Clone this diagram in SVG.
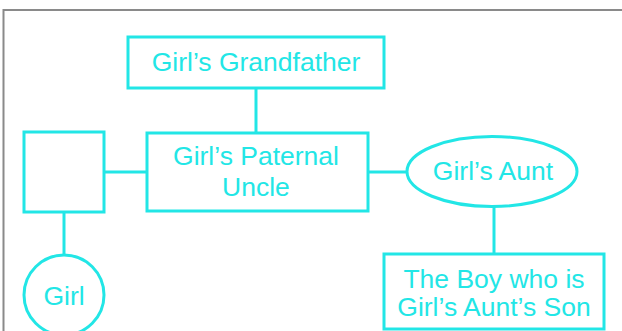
<svg xmlns="http://www.w3.org/2000/svg" width="622" height="331" viewBox="0 0 622 331">
<style>
.n{fill:#fff;stroke:#22E6E6;stroke-width:3}
.c{stroke:#22E6E6;stroke-width:3;fill:none}
.t{font-family:"Liberation Sans",Arial,sans-serif;font-size:26.5px;fill:#22E6E6;text-anchor:middle}
</style>
<rect x="0" y="0" width="622" height="331" fill="#fff"/>
<path d="M3.5 331 V10 H622" fill="none" stroke="#8a8a8a" stroke-width="2"/>
<g id="connectors">
<line class="c" x1="256" y1="88" x2="256" y2="133"/>
<line class="c" x1="104" y1="172" x2="147" y2="172"/>
<line class="c" x1="368" y1="172" x2="407" y2="172"/>
<line class="c" x1="64" y1="212" x2="64" y2="255"/>
<line class="c" x1="494" y1="206" x2="494" y2="254"/>
</g>
<g id="grandfather">
<rect class="n" x="128" y="37" width="256" height="51"/>
<text class="t" x="256" y="71">Girl’s Grandfather</text>
</g>
<g id="father">
<rect class="n" x="24" y="132" width="80" height="80"/>
</g>
<g id="uncle">
<rect class="n" x="147" y="133" width="221" height="78"/>
<text class="t" x="256" y="165">Girl’s Paternal</text>
<text class="t" x="256" y="196">Uncle</text>
</g>
<g id="aunt">
<ellipse class="n" cx="492" cy="171.5" rx="85" ry="35"/>
<text class="t" x="493" y="180">Girl’s Aunt</text>
</g>
<g id="girl">
<ellipse class="n" cx="64" cy="295" rx="40" ry="40"/>
<text class="t" x="64" y="305">Girl</text>
</g>
<g id="son">
<rect class="n" x="384" y="254" width="220" height="75"/>
<text class="t" x="494" y="288">The Boy who is</text>
<text class="t" x="494" y="316">Girl’s Aunt’s Son</text>
</g>
</svg>
